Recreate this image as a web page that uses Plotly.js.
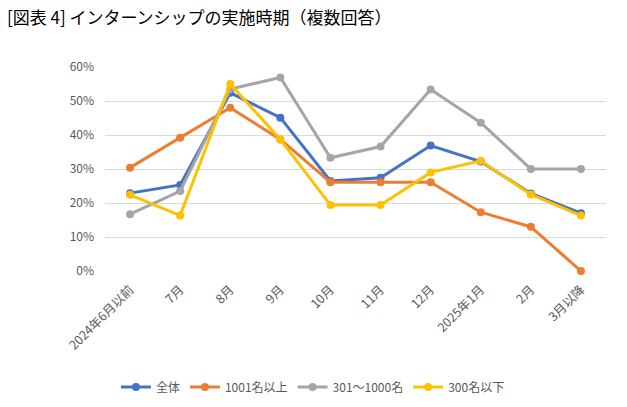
<!DOCTYPE html>
<html><head><meta charset="utf-8">
<script src="https://cdn.plot.ly/plotly-3.0.1.min.js"></script>
<style>body{margin:0;padding:0;background:#fff}#chart{width:627px;height:407px}</style>
</head><body><div id="chart"></div>
<script>
const categories = ["2024年6月以前","7月","8月","9月","10月","11月","12月","2025年1月","2月","3月以降"];
const seriesNames = ["全体","1001名以上","301～1000名","300名以下"];
const zentai   = [22.9, 25.3, 52.4, 45.1, 26.5, 27.4, 36.9, 32.2, 22.8, 17.0];
const over1001 = [30.4, 39.2, 48.0, 38.7, 26.1, 26.1, 26.1, 17.3, 13.0, 0.0];
const mid301   = [16.7, 23.5, 53.5, 56.9, 33.3, 36.6, 53.4, 43.6, 30.0, 30.0];
const under300 = [22.4, 16.3, 55.0, 38.7, 19.4, 19.4, 29.0, 32.4, 22.5, 16.3];
const yTicks = [0,10,20,30,40,50,60];
const colors = ["#4472C4","#ED7D31","#A5A5A5","#FFC000"];
const allSeries = [zentai, over1001, mid301, under300];

const traces = allSeries.map((vals, i) => ({
  type: "scatter", mode: "lines+markers",
  x: categories, y: vals, name: seriesNames[i],
  line: {color: colors[i], width: 3},
  marker: {color: colors[i], size: 8},
  cliponaxis: false
}));

const layout = {
  width: 627, height: 407,
  margin: {l: 105, r: 21, t: 67, b: 136, autoexpand: false},
  paper_bgcolor: "#fff", plot_bgcolor: "#fff",
  font: {family: "'Noto Sans CJK JP', 'Noto Sans', sans-serif", color: "#595959", size: 12},
  title: {
    text: "[図表 4] インターンシップの実施時期（複数回答）",
    font: {family: "'Noto Sans CJK JP', sans-serif", size: 17, color: "#000"},
    xref: "container", yref: "container", x: 0.011, xanchor: "left", y: 0.955, yanchor: "middle"
  },
  xaxis: {
    type: "category", range: [-0.5, 9.5], tickangle: -45, automargin: false,
    showgrid: false, zeroline: false, showline: false, ticks: "",
    tickfont: {size: 12.5, color: "#595959"}, ticklabelstandoff: 8, fixedrange: true
  },
  yaxis: {
    range: [0, 60], tickvals: yTicks, ticktext: yTicks.map(v => v + "%"), automargin: false,
    showgrid: true, gridcolor: "#D9D9D9", gridwidth: 1, zeroline: false, showline: false,
    tickfont: {size: 12, color: "#595959"}, ticks: "", ticklabelstandoff: 10
  },
  showlegend: true,
  legend: {orientation: "h", x: 0.415, xanchor: "center", y: -0.569, yanchor: "middle",
    font: {size: 12, color: "#595959"}, itemwidth: 30, traceorder: "normal"}
};
Plotly.newPlot("chart", traces, layout, {displayModeBar: false, staticPlot: true});
</script></body></html>
